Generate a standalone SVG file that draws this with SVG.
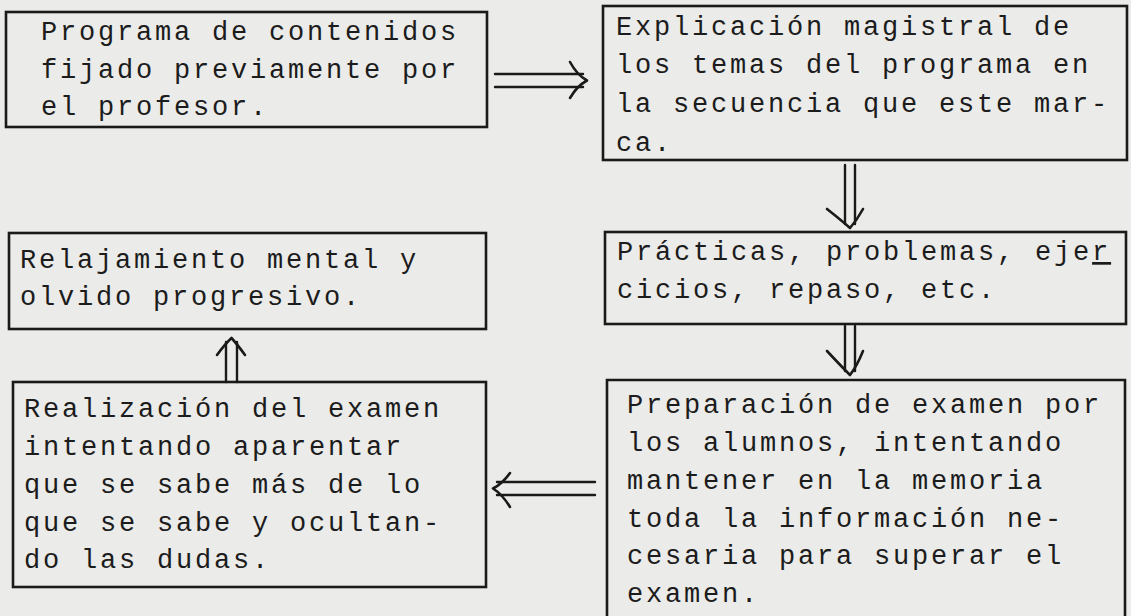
<svg xmlns="http://www.w3.org/2000/svg" width="1131" height="616" viewBox="0 0 1131 616">
<style>
.box{fill:none;stroke:#1a1a1a;stroke-width:2.6}
.t{font-family:"Liberation Mono","Courier New",monospace;font-size:27px;letter-spacing:2.8px;fill:#1c1c1c}
.ln{fill:none;stroke:#1a1a1a;stroke-width:2.4;stroke-linecap:round}
.hd{fill:none;stroke:#1a1a1a;stroke-width:2.6;stroke-linecap:round;stroke-linejoin:round}
</style>
<rect x="0" y="0" width="1131" height="616" fill="#ebebe9"/>
<g id="n1">
<rect class="box" x="6" y="12" width="481" height="115"/>
<text class="t" x="41" y="40">Programa de contenidos</text>
<text class="t" x="41" y="78">fijado previamente por</text>
<text class="t" x="41" y="115">el profesor.</text>
</g>
<g id="n2">
<rect class="box" x="603" y="6" width="524" height="154"/>
<text class="t" x="616" y="35">Explicación magistral de</text>
<text class="t" x="616" y="73">los temas del programa en</text>
<text class="t" x="616" y="112">la secuencia que este mar-</text>
<text class="t" x="616" y="151">ca.</text>
</g>
<g id="n3">
<rect class="box" x="605" y="232" width="521" height="92"/>
<text class="t" x="617" y="260">Prácticas, problemas, eje<tspan text-decoration="underline">r</tspan></text>
<text class="t" x="617" y="298">cicios, repaso, etc.</text>
</g>
<g id="n4">
<path class="box" d="M607,620 V380 H1125 V620"/>
<text class="t" x="627" y="413">Preparación de examen por</text>
<text class="t" x="627" y="451">los alumnos, intentando</text>
<text class="t" x="627" y="489">mantener en la memoria</text>
<text class="t" x="627" y="527">toda la información ne-</text>
<text class="t" x="627" y="564">cesaria para superar el</text>
<text class="t" x="627" y="602">examen.</text>
</g>
<g id="n5">
<rect class="box" x="13" y="382" width="473" height="205"/>
<text class="t" x="24" y="417">Realización del examen</text>
<text class="t" x="24" y="455">intentando aparentar</text>
<text class="t" x="24" y="493">que se sabe más de lo</text>
<text class="t" x="24" y="531">que se sabe y ocultan-</text>
<text class="t" x="24" y="568">do las dudas.</text>
</g>
<g id="n6">
<rect class="box" x="9" y="233" width="477" height="96"/>
<text class="t" x="20" y="268">Relajamiento mental y</text>
<text class="t" x="20" y="305">olvido progresivo.</text>
</g>
<g id="connectors">
<path class="ln" d="M495,74 H583 M495,87 H583"/>
<path class="hd" d="M570,62 Q577,75 587,80.5 Q577,86 570,98"/>
<path class="ln" d="M845,165 V224 M855,165 V224"/>
<path class="hd" d="M827,209 Q841,220 850,228 Q857,220 863,209"/>
<path class="ln" d="M845,326 V371 M855,326 V371"/>
<path class="hd" d="M827,351 Q841,366 850,375 Q857,366 863,351"/>
<path class="ln" d="M497,482 H595 M497,495 H595"/>
<path class="hd" d="M510,473 Q502,484 493,488.5 Q502,494 510,507"/>
<path class="ln" d="M226,382 V342 M237,382 V342"/>
<path class="hd" d="M217,355 Q225,344 231.5,338 Q237,344 245,355"/>
</g>
</svg>
